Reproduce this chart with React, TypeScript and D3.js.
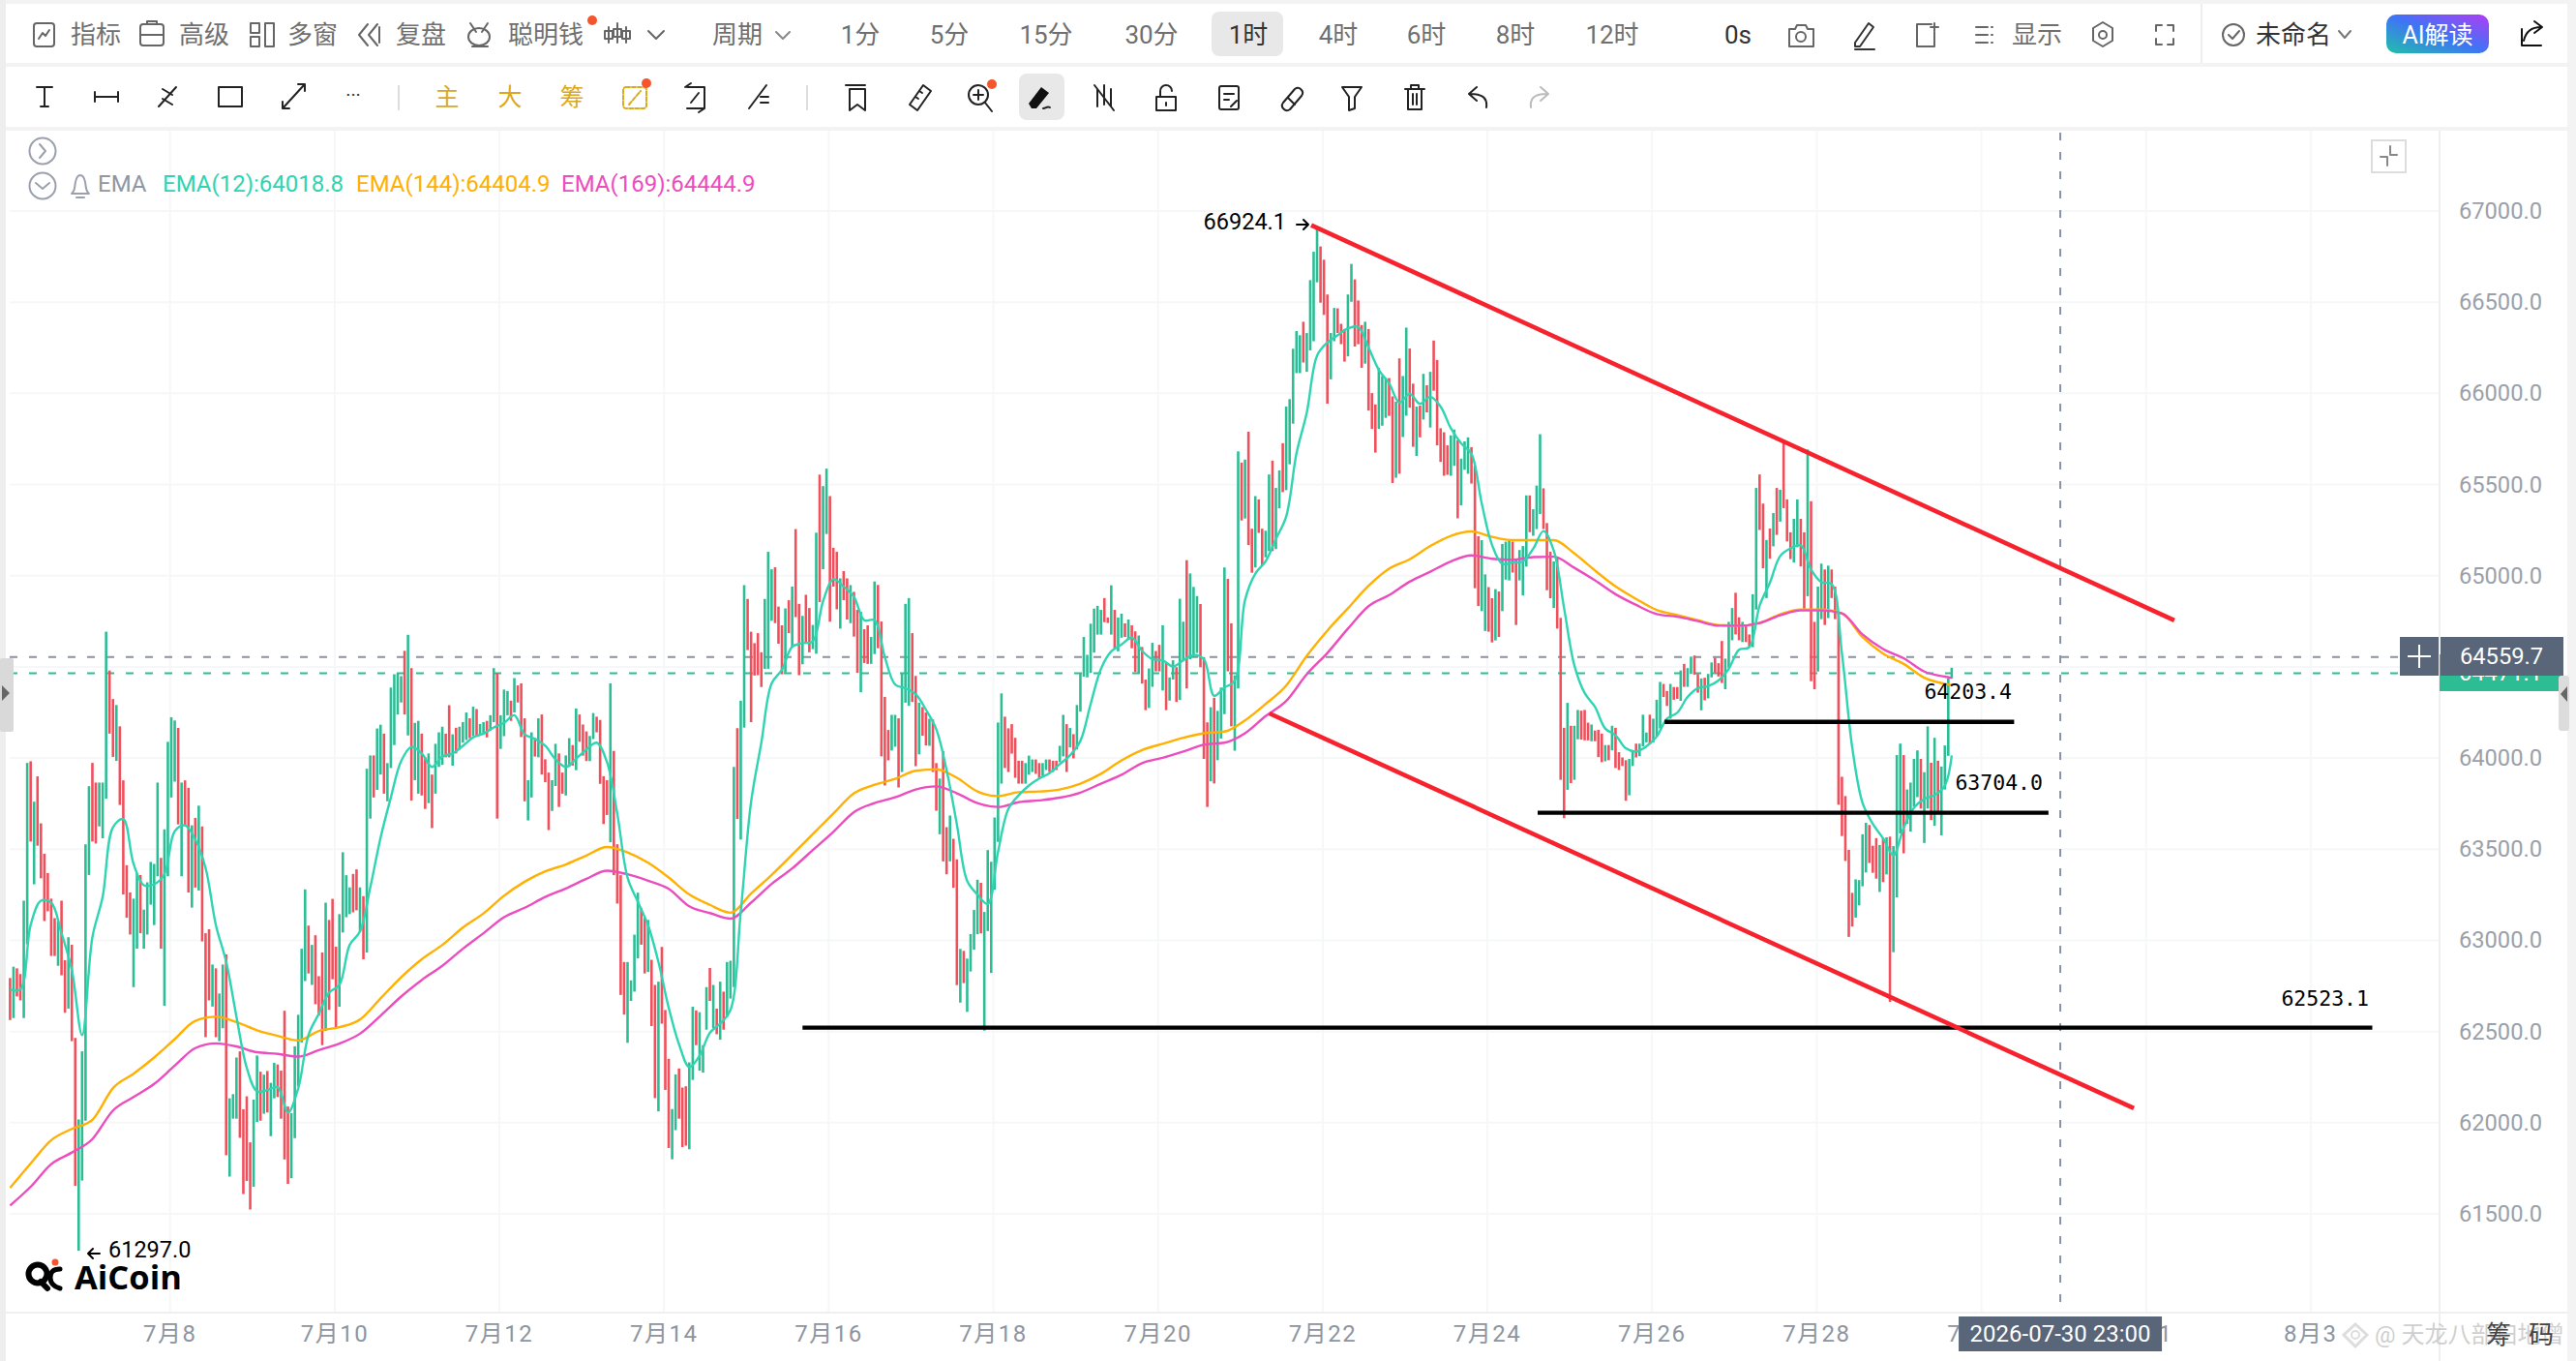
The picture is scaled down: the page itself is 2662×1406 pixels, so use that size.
import React from "react";
import * as d3 from "d3";

// ---------- hourly candles (each drawn as a single high-low bar) ----------
const candleDir =
  "RGRRGGRGRR" + "RRRRGRRGRR" + "GGGGRRGGGR" + "RGRRRRGGRG" + "GGGGRGGGGR" + "GRRGRGRRRG" + "RGGRGGGRRR" + "RGGRGRGGRR" +
  "RRGGGGGRGR" + "RRGRRRGGGG" + "RRGRGGRGGR" + "GGGGGRGRGG" + "RRGRGGGRRG" + "RGGGRGRGGR" + "GGRGGGRGRR" + "RGGRGRRRGG" +
  "RRGGRGRRRG" + "GRRRRGRRRR" + "GGGGRRGRRG" + "RRRGGRRRGG" + "RGGGRGRGRG" + "GGRGGRRRRR" + "GGGRRRGRGR" + "RGRRGGRGGR" +
  "RRGRRGRRGR" + "RGGRRRRGGR" + "GGGRRGRRGR" + "RGRRGRRGRG" + "GGGRGGGGGG" + "RRRRRRGGGR" + "RGGRRRGGRG" + "RGGGGGGGGR" +
  "RGRGGRGRRG" + "RRGGRRGRGG" + "RGGRGGGRRR" + "GRGGGRRGGR" + "GRRGRRGGRG" + "GRGGGGGRGG" + "GGRRRGGRRR" + "GGRRRGRRRG" +
  "GGRRGRGGRR" + "GRGRGRRRRR" + "GGRGGGRRRG" + "GRRGRGGGRR" + "GGGRGGGRRR" + "GRRRGRGGRR" + "RGRRRGRGRR" + "RRGGRGGGRG" +
  "GGRRGRRGRG" + "GRRGRGGRRR" + "GGGRRGRRGG" + "RRGRGRGRRR" + "GGRRGRRGGR" + "GRRRRRRRGG" + "GGRRRGRGRG" + "GGRGGGGRGG" + "RGRGGGG";

const candleHigh = [
  62796,62858,62849,62818,63221,63978,63987,63765,63904,63646,
  63479,63373,63232,63125,63109,63221,62894,63020,62979,62467,
  62019,62393,63530,63850,63978,63870,63870,63870,64699,64486,
  64329,64296,64179,63882,63416,63266,63232,63373,63362,63172,
  63322,63434,63423,63870,63456,63613,64094,64229,64211,64170,
  63870,63882,63841,63635,63676,63743,63629,63042,63064,62870,
  62849,62711,62870,62926,62135,62158,62359,62393,62075,62146,
  61893,62128,62370,62281,62265,62285,62220,62330,62321,62287,
  62616,62090,62053,62421,62594,62957,63283,63084,62978,63031,
  62806,62936,63210,63115,63231,62968,63147,63487,63361,63294,
  63368,63393,63294,63246,63946,64019,64019,64167,64188,64139,
  63977,64392,64465,64472,64455,64594,64682,64499,64198,64209,
  64139,64009,64030,63914,64083,64146,64177,64139,64295,64135,
  64171,64177,64202,64255,64223,64287,64274,64192,64202,64209,
  64240,64499,64472,64240,64381,64373,64320,64444,64404,64415,
  64223,63883,64146,64114,64223,64244,63998,63925,63883,64083,
  64030,63925,64019,64114,64076,64277,64244,64189,64151,64126,
  64252,64232,64214,63905,63883,64415,64044,63531,63361,62884,
  62884,62783,63034,63265,63180,63127,63115,62896,62758,62776,
  62967,62620,62352,62076,62266,62299,62194,62201,62332,62638,
  62618,62608,62427,62746,62851,62758,62628,62776,62721,62884,
  62891,63956,64169,64320,64955,64879,64699,64636,64691,64586,
  64879,65138,65042,65053,64837,64734,64827,64872,64947,65263,
  64852,64786,64902,64829,64736,65243,65562,65499,65595,65444,
  65160,65138,64992,65032,64992,64955,64918,64819,64809,64713,
  64734,64670,64975,64956,64755,64341,64159,64242,64242,64223,
  64473,64852,64884,64691,64456,64309,64285,64255,64221,64217,
  63977,63892,64042,63625,63689,63561,63448,62956,62945,62903,
  63037,63170,63336,63319,63159,63499,63435,63678,64200,64360,
  64232,64168,64191,64116,63990,63990,63977,64018,63997,63997,
  63977,63977,63997,63997,63990,63990,64072,64242,64191,64170,
  64136,64296,64473,64670,64572,64743,64826,64841,64819,64884,
  64777,64954,64819,64777,64798,64745,64766,64734,64701,64678,
  64615,64436,64497,64638,64593,64627,64734,64530,64448,64542,
  64504,64880,64754,65092,65019,64945,64895,64851,64559,64201,
  64284,64336,64264,64392,65052,64989,64745,64459,65690,65628,
  65645,65798,65265,65444,65426,65265,65254,65563,65639,65489,
  65585,65735,65936,65977,66254,66351,66328,66402,66340,66631,
  66787,66924,66816,66743,66552,66340,66478,66476,66391,66362,
  66552,66720,66635,66519,66384,66402,66362,66010,65948,66149,
  66104,66093,66093,65992,65963,66201,66104,66370,66255,66062,
  65936,65941,66116,66053,66127,66299,66192,65817,65795,65723,
  65778,65810,65752,65650,65745,65767,65713,65611,65224,65202,
  65014,64944,64883,64933,64920,65181,65194,65202,65194,65094,
  65148,65170,65448,65448,65372,65502,65784,65487,65296,65139,
  65085,65111,64775,64171,64308,64182,64182,64269,64265,64269,
  64199,64189,64156,64160,64139,64076,64076,64182,64171,64037,
  64008,63993,64000,64043,64084,64084,64243,64145,64243,64221,
  64325,64423,64412,64373,64412,64395,64395,64486,64522,64499,
  64562,64568,64467,64442,64446,64467,64530,64556,64526,64648,
  64551,64753,64829,64913,64778,64753,64736,64684,64905,65489,
  65563,65403,65203,65266,65351,65489,65479,65735,65426,65245,
  65319,65426,65319,65245,65700,65416,64753,64947,65073,65041,
  65062,65041,64947,64800,63902,63796,63500,63264,63338,63334,
  63586,63649,63637,63523,63565,63527,63565,63569,63573,63521,
  64021,64084,64021,63832,63870,64000,64047,64000,63927,64179,
  63979,64116,63990,63958,64074,64442,64501,
];

const candleLow = [
  62565,62576,62695,62673,62576,62982,63546,63311,63523,63344,
  63109,63163,62917,62917,62863,62811,62605,62628,62449,61654,
  61297,61683,62012,63362,63546,63535,63629,63564,63781,64139,
  64011,63989,63747,63255,63127,63035,62746,62957,63042,62957,
  63035,63199,63087,63355,62957,62643,63355,63788,63875,63640,
  63355,63635,63266,63183,63293,63277,62997,62471,62673,62639,
  62471,62449,62520,61822,61705,62023,62023,61918,61609,61681,
  61524,61649,62005,62012,62050,62057,61927,62135,62142,62023,
  61799,61665,61696,61916,62200,62442,62779,62821,62758,62652,
  62589,62427,62505,62621,62789,62526,62638,63046,63130,63147,
  63157,63168,63052,62899,62936,63672,63788,63830,63914,63809,
  63767,63950,64076,64244,64310,64244,64129,63771,63883,63809,
  63799,63725,63757,63620,63809,63956,63967,64009,64009,63963,
  64030,64051,64089,64104,64114,64125,64125,64129,64135,64118,
  64156,64202,63672,64055,64125,64240,64209,64255,64310,64120,
  63767,63662,63788,64013,64009,63914,63872,63609,63714,63851,
  63736,63809,63799,63956,63963,63938,64094,64018,63988,63988,
  64109,64146,63863,63642,63692,63542,63361,63205,62703,62595,
  62440,62670,62721,62904,62979,62821,62829,62532,62136,62063,
  62545,62181,61862,61800,61960,62023,61867,61875,61855,62236,
  62427,62287,62276,62512,62670,62520,62487,62457,62512,62583,
  62683,62746,63670,63557,64172,64598,64202,64458,64460,64395,
  64495,64495,64759,64746,64633,64465,64475,64691,64616,64779,
  64460,64520,64636,64586,64603,64578,64862,65042,65236,64754,
  64947,64822,64716,64872,64766,64746,64672,64473,64366,64527,
  64522,64522,64576,64608,64014,63854,63992,64046,64067,63843,
  63928,64309,64292,64313,63960,64025,64127,64074,64072,63928,
  63715,63586,63437,63366,63437,63292,62757,62661,62768,62610,
  62832,62952,63037,63041,62507,63054,62824,63281,63544,63864,
  63950,63928,64029,63896,63864,63864,63864,63913,63928,63918,
  63896,63907,63939,63928,63928,63939,63982,64014,63928,64063,
  64003,64052,64260,64452,64448,64473,64584,64683,64683,64751,
  64747,64683,64601,64591,64666,64670,64655,64608,64477,64470,
  64414,64268,64280,64396,64481,64481,64376,64268,64320,64436,
  64313,64324,64537,64387,64548,64559,64582,64504,64000,63736,
  63877,63865,63993,64112,64246,64481,64179,64045,64387,65310,
  65321,65175,65023,65052,65242,65063,65108,65142,65142,65153,
  65377,65466,65477,65619,65842,66120,66120,66178,66127,66245,
  66295,66619,66507,66440,65952,66086,66295,66340,66279,66183,
  66212,66512,66266,66279,66149,66172,65914,65813,65683,65813,
  65831,65874,65885,65516,65545,65567,65769,65886,65930,65715,
  65665,65767,65865,65904,65821,66023,65723,65632,65556,65561,
  65556,65611,65322,65393,65589,65567,65513,64938,64840,64812,
  64703,64699,64640,64651,64670,64812,64985,64981,65024,64736,
  64981,64898,65057,65246,65226,65263,65346,65263,64927,64883,
  64829,64716,63885,63674,63830,63867,63885,64108,64106,64102,
  64102,64097,64097,64010,63982,63987,63993,64047,63950,63939,
  63961,63770,63800,63961,64008,64015,64069,64091,64080,64091,
  64123,64167,64340,64291,64221,64325,64330,64319,64396,64396,
  64467,64463,64364,64267,64322,64333,64448,64474,64453,64417,
  64383,64501,64652,64684,64652,64642,64642,64614,64614,64821,
  65258,65048,64884,65100,65168,65231,65304,65378,65195,65098,
  65079,65163,65058,64825,64894,64427,64383,64480,64768,64736,
  64774,64884,64768,63748,63576,63439,63022,63079,63128,63195,
  63300,63376,63428,63374,63342,63269,63323,63365,62665,62938,
  63239,63590,63481,63643,63601,63738,63790,63727,63538,63727,
  63664,63632,63700,63580,63832,64017,64442,
];

// EMA(12) read every 3 candles; the last reading belongs to the last candle
const ema12 = [
  62733,62733,63087,63221,63210,63042,62840,62482,63020,63243,63624,63669,63423,63306,63311,63367,63602,63635,63557,63400,
  63087,62885,62583,62303,62173,62180,62196,62057,
  62190,62484,62600,62716,62758,62978,63052,63294,63567,63788,63988,64066,64030,63956,64013,64030,64072,64118,64139,64173,
  64198,64240,64135,64110,64072,63998,63956,
  64001,64051,64089,63983,63700,63348,63215,63085,62884,62633,62432,62307,62369,62495,62545,62620,63160,63762,64089,64415,
  64490,64616,64636,64646,64867,64987,64947,
  64890,64762,64762,64559,64409,64388,64356,64270,64163,63939,63640,63330,63255,63202,63490,63725,63800,63854,63892,63922,
  63971,64020,64099,64302,64495,64591,64629,64666,
  64593,64548,64542,64508,64542,64571,64548,64347,64392,64430,64873,65018,65086,65209,65332,65679,65903,66216,66288,66328,
  66366,66373,66261,66138,66064,65959,
  66006,65951,65990,65936,65817,65734,65676,65404,65176,65072,65079,65085,65155,65252,65144,64829,64514,64362,64286,64167,
  64130,64058,64041,64069,64123,64221,64254,64340,
  64389,64400,64431,64495,64600,64614,64842,64968,65115,65157,65174,65041,64972,64961,64579,64063,63759,63643,63563,63470,
  63622,63731,63780,63801,63853,
];
const ema12Last = 64018.8;

// EMA(144) and EMA(169) read every 6 candles
const ema144 = [
  61643,61777,61905,61967,62017,62191,62270,62359,62460,62561,
  62583,62554,62509,62478,62453,62505,62526,62568,62684,62800,
  62899,62978,63073,63151,63248,63325,63382,63420,63469,63516,
  63486,63429,63348,63255,63198,63155,63260,63363,63474,63587,
  63700,63811,63858,63890,63935,63943,63896,63821,63796,63817,
  63821,63832,63864,63918,63992,64049,64083,64116,64141,64150,
  64212,64302,64403,64566,64705,64828,64951,65045,65097,65170,
  65226,65250,65220,65202,65202,65202,65129,65035,64948,64879,
  64818,64790,64762,64736,64732,64747,64795,64821,64821,64800,
  64669,64579,64522,64446,64412,
];
const ema144Last = 64404.9;
const ema169 = [
  61546,61649,61773,61837,61911,62068,62142,62214,62314,62411,
  62437,62420,62388,62379,62364,62400,62436,62490,62589,62694,
  62785,62863,62957,63042,63130,63182,63241,63288,63341,63386,
  63366,63331,63286,63190,63153,63122,63210,63313,63398,63499,
  63599,63708,63757,63789,63832,63849,63811,63757,63736,63762,
  63772,63787,63815,63864,63913,63977,64006,64040,64078,64089,
  64141,64235,64318,64465,64582,64716,64839,64900,64974,65029,
  65085,65118,65100,65094,65109,65111,65050,64981,64905,64846,
  64796,64781,64757,64732,64732,64747,64789,64816,64816,64800,
  64684,64604,64553,64480,64452,
];
const ema169Last = 64444.9;

const priceTicks = [61500,62000,62500,63000,63500,64000,64500,65000,65500,66000,66500,67000];
const dateLabels = ["7月8","7月10","7月12","7月14","7月16","7月18","7月20","7月22","7月24","7月26","7月28","7月30","8月1","8月3"];
const firstDateCandle = 46.65;
const crosshairPrice = 64559.7;
const lastPrice = 64471.1;
const crosshairCandle = 597.65;
const redLines = [
  { a: [379.3, 66933], b: [630.9, 64761] },
  { a: [367.1, 64250], b: [619.1, 62080] },
];
const blackLines = [
  { from: 231, to: 688.6, price: 62523.1 },
  { from: 445.3, to: 594.2, price: 63704.0 },
  { from: 482.3, to: 584.2, price: 64203.4 },
];

const topLabels = [
  { t: "指标", x: 99 }, { t: "高级", x: 211 }, { t: "多窗", x: 323 }, { t: "复盘", x: 435 }, { t: "聪明钱", x: 564 },
  { t: "周期", x: 762 }, { t: "1分", x: 889 }, { t: "5分", x: 981 }, { t: "15分", x: 1081 }, { t: "30分", x: 1190 },
  { t: "1时", x: 1290, dark: true }, { t: "4时", x: 1383 }, { t: "6时", x: 1474 }, { t: "8时", x: 1566 }, { t: "12时", x: 1666 },
  { t: "0s", x: 1796, dark: true }, { t: "显示", x: 2105 }, { t: "未命名", x: 2370, dark: true },
];
const goldLabels = [{ t: "主", x: 462 }, { t: "大", x: 527 }, { t: "筹", x: 591 }];

const FONT = "Roboto, 'Noto Sans CJK SC', sans-serif";
const MONO = "'DejaVu Sans Mono', monospace";
const GREEN = "#2dbd94";
const RED = "#f0505c";
const SLATE = "#596579";
const LABEL = "#9aa1aa";

const x = d3.scaleLinear().domain([0, 566]).range([10.4, 10.4 + 566 * 3.545]);
const y = d3.scaleLinear().domain([61500, 67000]).range([1254, 220]);
const yTick = d3.scaleLinear().domain([61500, 67000]).range([1254, 218]);
const emaLine = d3.line<[number, number]>().x(d => x(d[0])).y(d => y(d[1]));
const path12 = emaLine.curve(d3.curveCatmullRom.alpha(0.5))(
  [...ema12.map((v, i) => [i * 3, v] as [number, number]), [566, ema12Last] as [number, number]]
) as string;
const slowPath = (vals: number[], last: number) =>
  d3.line<[number, number]>().x(d => x(d[0])).y(d => y(d[1])).curve(d3.curveMonotoneX)(
    [...vals.map((v, i) => [i * 6, v] as [number, number]), [566, last] as [number, number]]
  ) as string;

const stroke = (c: string, w = 2) => ({ fill: "none", stroke: c, strokeWidth: w, strokeLinecap: "round" as const, strokeLinejoin: "round" as const });

function TopIcons() {
  const g = stroke("#666");
  return (
    <g>
      <g {...g}><rect x={35} y={24} width={21} height={24} rx={3} /><path d="M40 40l4-6 3 3 4-6" /></g>
      <g {...g}><rect x={145} y={25} width={24} height={22} rx={3} /><path d="M145 36h24M152 25v-3h10v3" /></g>
      <g {...g}><rect x={259} y={24} width={9} height={10} /><rect x={259} y={38} width={9} height={10} /><rect x={274} y={24} width={9} height={24} /></g>
      <g {...g}><path d="M380 25l-9 11 9 11M390 25l-9 11 9 11M392 28v16" /></g>
      <g {...g}><ellipse cx={495} cy={38} rx={11} ry={9} /><path d="M486 24l6 9M504 24l-6 9M488 48h16" /></g>
      <g {...g}><path d="M629 28v16M638 24v20M647 28v16M625 32h8v8h-8zM634 30h8v8h-8zM643 32h8v8h-8z" /></g>
      <path d="M670 32l8 8 8-8" {...g} />
      <path d="M802 33l7 7 7-7" {...stroke("#888")} />
      <circle cx={612} cy={21} r={5} fill="#f4552d" />
      <g {...g}><path d="M1849 30h6l2-4h9l2 4h6v18h-25z" /><circle cx={1861} cy={38} r={5} /></g>
      <g {...stroke("#333")}><path d="M1917 44l14-20 5 4-14 20h-5zM1917 51h20" /></g>
      <g {...g}><path d="M1996 25h-15v23h18v-15M1995 28h8M1999 24v8" /></g>
      <g {...g}><path d="M2042 28h12M2042 36h12M2042 44h12M2058 28h1M2058 36h1M2058 44h1" /></g>
      <g {...g}><path d="M2173 23l10 6v13l-10 6-10-6V29z" /><circle cx={2173} cy={36} r={4} /></g>
      <g {...g}><path d="M2228 32v-6h6M2240 26h6v6M2246 40v6h-6M2234 46h-6v-6" /></g>
      <line x1={2275} x2={2275} y1={4} y2={65} stroke="#eee" strokeWidth={2} />
      <g {...g}><circle cx={2308} cy={36} r={11} /><path d="M2303 36l4 4 7-8" /></g>
      <path d="M2417 32l6 7 6-7" {...stroke("#777")} />
      <rect x={2466} y={15} width={106} height={40} rx={10} fill="url(#aiGrad)" />
      <text x={2519} y={36} textAnchor="middle" dominantBaseline="central" fontFamily={FONT} fontSize={25} fill="#fff">AI解读</text>
      <g {...stroke("#111")}><path d="M2606 30v17h20M2608 42c2-9 8-14 18-14M2619 22l8 6-8 6" /></g>
    </g>
  );
}

function ToolIcons() {
  const k = stroke("#222");
  return (
    <g>
      <g {...k}><path d="M38 90h16M46 90v20M42 110h8" /></g>
      <g {...k}><path d="M98 100h24M98 95v10M122 95v10" /></g>
      <g {...k}><path d="M164 110l18-20M168 92l10 6M168 102l10 6" /></g>
      <rect x={226} y={90} width={24} height={20} {...k} />
      <g {...k}><path d="M292 112l22-24M308 87h7v7M292 105v7h7" /></g>
      <text x={365} y={98} textAnchor="middle" dominantBaseline="central" fontSize={20} fill="#333" fontFamily={FONT}>···</text>
      <line x1={412} x2={412} y1={88} y2={114} stroke="#ddd" strokeWidth={2} />
      <g {...stroke("#dba91f")} strokeDasharray="4 2"><rect x={644} y={90} width={24} height={22} rx={3} /><path d="M650 108l12-14" /></g>
      <circle cx={668} cy={86} r={5} fill="#f4552d" />
      <g {...k}><path d="M710 90h18v22h-18M708 90l6-4M728 112l-6 4M714 106l8-10" /></g>
      <g {...k}><path d="M774 112l18-24M786 100h8M786 106h8" /></g>
      <line x1={834} x2={834} y1={88} y2={114} stroke="#ddd" strokeWidth={2} />
      <g {...k}><path d="M874 88h20M878 92h16v22l-8-6-8 6z" /></g>
      <g {...k}><path d="M940 108l14-20 8 6-14 20zM950 94l3 2M946 100l3 2" /></g>
      <g {...k}><circle cx={1011} cy={98} r={10} /><path d="M1018 106l7 9M1006 98h10M1011 93v10" /></g>
      <circle cx={1025} cy={87} r={5} fill="#f4552d" />
      <rect x={1053} y={76} width={47} height={48} rx={8} fill="#e8e8e8" />
      <path d="M1066 112l-3-5 13-17 8 6-13 16z" fill="#111" /><path d="M1078 112c3 0 4-3 7-1" {...k} />
      <g {...k}><path d="M1134 92v18M1141 88v20M1148 92v18M1131 88l20 26" /></g>
      <g {...k}><rect x={1195} y={100} width={20} height={14} /><path d="M1199 100v-6a6 6 0 0 1 12 0" /><path d="M1205 106v3" /></g>
      <g {...k}><rect x={1260} y={89} width={20} height={24} rx={2} /><path d="M1265 97h10M1265 103h5M1272 110l6-6" /></g>
      <g {...k}><path d="M1326 106l12-14a5 5 0 0 1 7 7l-12 14a5 5 0 0 1-7-7zM1331 101l7 7" /></g>
      <g {...k}><path d="M1387 90h20l-7 10v12l-6 2v-14z" /></g>
      <g {...k}><path d="M1452 92h20M1458 92v-4h8v4M1455 92v21h14V92M1460 97v11M1464 97v11" /></g>
      <g {...k}><path d="M1536 111c1-8-2-14-16-14M1526 90l-8 7 8 7" /></g>
      <g {...stroke("#bbb")}><path d="M1582 111c-1-8 2-14 16-14M1592 90l8 7-8 7" /></g>
    </g>
  );
}

function App() {
  const candles = candleHigh.map((h, i) => ({ i, h, l: candleLow[i], up: candleDir[i] === "G" }));
  const legendY = 190;
  return (
    <svg width={2662} height={1406} viewBox="0 0 2662 1406" style={{ position: "fixed", left: 0, top: 0, background: "#fff" }}>
      <defs>
        <linearGradient id="aiGrad" x1="0" x2="1" y1="1" y2="0">
          <stop offset="0" stopColor="#20c0a8" />
          <stop offset="0.5" stopColor="#3f74f5" />
          <stop offset="1" stopColor="#b03cf5" />
        </linearGradient>
      </defs>
      <rect width={2662} height={1406} fill="#fff" />
      {/* frame strips */}
      <rect x={0} y={0} width={2662} height={4} fill="#f3f3f4" />
      <rect x={0} y={65} width={2662} height={4} fill="#f3f3f4" />
      <rect x={0} y={131} width={2662} height={4} fill="#f3f3f4" />
      <rect x={0} y={0} width={6} height={1406} fill="#eeeeee" />
      <rect x={2653} y={0} width={9} height={1406} fill="#f3f3f4" />

      {/* toolbars */}
      <rect x={1252} y={12} width={74} height={46} rx={8} fill="#e8e8e8" />
      {topLabels.map(d => (
        <text key={d.t} x={d.x} y={36} textAnchor="middle" dominantBaseline="central" fontFamily={FONT} fontSize={26} fill={d.dark ? "#333" : "#6f6f6f"}>{d.t}</text>
      ))}
      {goldLabels.map(d => (
        <text key={d.t} x={d.x} y={100} textAnchor="middle" dominantBaseline="central" fontFamily={FONT} fontSize={25} fill="#dba91f">{d.t}</text>
      ))}
      <TopIcons />
      <ToolIcons />

      {/* grid */}
      {priceTicks.map(p => (
        <line key={p} x1={10} x2={2521} y1={yTick(p)} y2={yTick(p)} stroke="#f6f7f8" strokeWidth={2} />
      ))}
      {dateLabels.map((d, k) => (
        <line key={d} x1={x(firstDateCandle + 48 * k)} x2={x(firstDateCandle + 48 * k)} y1={135} y2={1356} stroke="#f6f7f8" strokeWidth={2} />
      ))}
      <line x1={6} x2={2653} y1={1356} y2={1356} stroke="#efefef" strokeWidth={2} />
      <line x1={2521} x2={2521} y1={135} y2={1406} stroke="#efefef" strokeWidth={2} />

      {/* dashed guides */}
      <line x1={10} x2={2480} y1={y(crosshairPrice)} y2={y(crosshairPrice)} stroke="#8a92a0" strokeWidth={2} strokeDasharray="8 12" />
      <line x1={10} x2={2521} y1={y(lastPrice)} y2={y(lastPrice)} stroke={GREEN} strokeWidth={2} strokeDasharray="8 12" />
      <line x1={x(crosshairCandle)} x2={x(crosshairCandle)} y1={137} y2={1356} stroke="#8a92a0" strokeWidth={2} strokeDasharray="8 12" />

      {/* candles */}
      {candles.map(c => (
        <line key={c.i} x1={x(c.i)} x2={x(c.i)} y1={y(c.h)} y2={y(c.l)} stroke={c.up ? GREEN : RED} strokeWidth={2.6} />
      ))}

      {/* EMAs */}
      <path d={slowPath(ema144, ema144Last)} fill="none" stroke="#ffb000" strokeWidth={2.4} />
      <path d={slowPath(ema169, ema169Last)} fill="none" stroke="#ec4dbe" strokeWidth={2.4} />
      <path d={path12} fill="none" stroke="#2fd4b2" strokeWidth={2.4} />

      {/* drawn trend and level lines */}
      {blackLines.map(l => (
        <line key={l.price} x1={x(l.from)} x2={x(l.to)} y1={y(l.price)} y2={y(l.price)} stroke="#000" strokeWidth={4.4} />
      ))}
      {redLines.map((l, k) => (
        <line key={k} x1={x(l.a[0])} y1={y(l.a[1])} x2={x(l.b[0])} y2={y(l.b[1])} stroke="#f6232e" strokeWidth={4.6} />
      ))}
      <text x={2079} y={714} textAnchor="end" dominantBaseline="central" fontFamily={MONO} fontSize={21.5} fill="#000">64203.4</text>
      <text x={2111} y={808} textAnchor="end" dominantBaseline="central" fontFamily={MONO} fontSize={21.5} fill="#000">63704.0</text>
      <text x={2448} y={1031} textAnchor="end" dominantBaseline="central" fontFamily={MONO} fontSize={21.5} fill="#000">62523.1</text>

      {/* extremes */}
      <text x={1329} y={229} textAnchor="end" dominantBaseline="central" fontFamily={FONT} fontSize={23.5} fill="#000">66924.1</text>
      <path d="M1340 232h12M1347 227l5 5-5 5" {...stroke("#000")} />
      <text x={112} y={1291} dominantBaseline="central" fontFamily={FONT} fontSize={23.5} fill="#000">61297.0</text>
      <path d="M103 1295H91M96 1290l-5 5 5 5" {...stroke("#000")} />

      {/* logo */}
      <g>
        <circle cx={39} cy={1316} r={9.5} fill="none" stroke="#000" strokeWidth={6} />
        <path d="M42 1324l7 7" {...stroke("#000", 6)} />
        <path d="M62 1311c-8 0-10 4-10 9s3 9 10 11" {...stroke("#000", 5)} />
        <circle cx={57} cy={1304} r={3.5} fill="#f4552d" />
        <text x={77} y={1332} fontFamily="'Open Sans', Roboto, sans-serif" fontWeight={700} fontSize={34.5} fill="#000">AiCoin</text>
      </g>

      {/* price axis */}
      {priceTicks.map(p => (
        <text key={p} x={2627} y={yTick(p)} textAnchor="end" dominantBaseline="central" fontFamily={FONT} fontSize={23.7} fill={LABEL}>{p.toFixed(1)}</text>
      ))}

      {/* date axis */}
      {dateLabels.map((d, k) => (
        <text key={d} x={x(firstDateCandle + 48 * k)} y={1378} textAnchor="middle" dominantBaseline="central" fontFamily={FONT} fontSize={24} letterSpacing={1.5} fill="#8e95a0">{d}</text>
      ))}

      {/* crosshair tags */}
      <rect x={x(crosshairCandle) - 105} y={1360} width={210} height={36} fill={SLATE} />
      <text x={x(crosshairCandle)} y={1378} textAnchor="middle" dominantBaseline="central" fontFamily={FONT} fontSize={24} fill="#fff">2026-07-30 23:00</text>
      <rect x={2521} y={676} width={125} height={38} fill={GREEN} />
      <text x={2584} y={y(lastPrice)} textAnchor="middle" dominantBaseline="central" fontFamily={FONT} fontSize={23.7} fill="#fff">{lastPrice.toFixed(1)}</text>
      <rect x={2480} y={658} width={40} height={40} fill={SLATE} />
      <path d="M2488 678h24M2500 666v24" stroke="#fff" strokeWidth={2} />
      <rect x={2522} y={658} width={127} height={40} fill={SLATE} />
      <text x={2585} y={678} textAnchor="middle" dominantBaseline="central" fontFamily={FONT} fontSize={23.7} fill="#fff">{crosshairPrice.toFixed(1)}</text>

      {/* side handles */}
      <rect x={0} y={680} width={14} height={76} rx={2} fill="#d9d9d9" />
      <path d="M2 708l8 8-8 8z" fill="#666" />
      <rect x={2644} y={698} width={11} height={57} rx={3} fill="#dcdcdc" />
      <path d="M2653 709l-7 8 7 8z" fill="#666" />

      {/* legend */}
      <circle cx={44} cy={156} r={13.5} fill="none" stroke="#9aa1ad" strokeWidth={2} />
      <path d="M41 149l6 7-6 7" {...stroke("#9aa1ad")} />
      <circle cx={44} cy={legendY + 2} r={13.5} fill="none" stroke="#9aa1ad" strokeWidth={2} />
      <path d="M37 189l7 6 7-6" {...stroke("#9aa1ad")} />
      <g {...stroke("#9aa1ad")}><path d="M74 200c4-3 3-8 4-12 1-5 3-7 5-7s4 2 5 7c1 4 0 9 4 12zM79 204h8" /></g>
      <text x={101} y={legendY} dominantBaseline="central" fontFamily={FONT} fontSize={24} fill="#8f97a3">EMA</text>
      <text x={168} y={legendY} dominantBaseline="central" fontFamily={FONT} fontSize={24} fill="#2fd4b2">{`EMA(12):${ema12Last.toFixed(1)}`}</text>
      <text x={368} y={legendY} dominantBaseline="central" fontFamily={FONT} fontSize={24} fill="#ffb000">{`EMA(144):${ema144Last.toFixed(1)}`}</text>
      <text x={580} y={legendY} dominantBaseline="central" fontFamily={FONT} fontSize={24} fill="#ec4dbe">{`EMA(169):${ema169Last.toFixed(1)}`}</text>

      {/* collapse button */}
      <rect x={2451} y={145} width={35} height={33} fill="#fff" stroke="#ddd" strokeWidth={2} />
      <path d="M2470 151v9h7M2467 171v-9h-7" {...stroke("#888")} />

      {/* watermark and bottom-right tabs */}
      <g opacity={0.55}>
        <path d="M2434 1368l12 11-12 12-12-12z" fill="none" stroke="#c2c2c2" strokeWidth={3} />
        <circle cx={2434} cy={1379} r={4} fill="none" stroke="#c2c2c2" strokeWidth={2} />
        <text x={2454} y={1379} dominantBaseline="central" fontFamily={FONT} fontSize={24} fill="#a8a8a8">@ 天龙八部扫地僧</text>
      </g>
      <text x={2582} y={1379} textAnchor="middle" dominantBaseline="central" fontFamily={FONT} fontSize={26} fill="#444">筹</text>
      <text x={2626} y={1379} textAnchor="middle" dominantBaseline="central" fontFamily={FONT} fontSize={26} fill="#444">码</text>
    </svg>
  );
}

export default App;
